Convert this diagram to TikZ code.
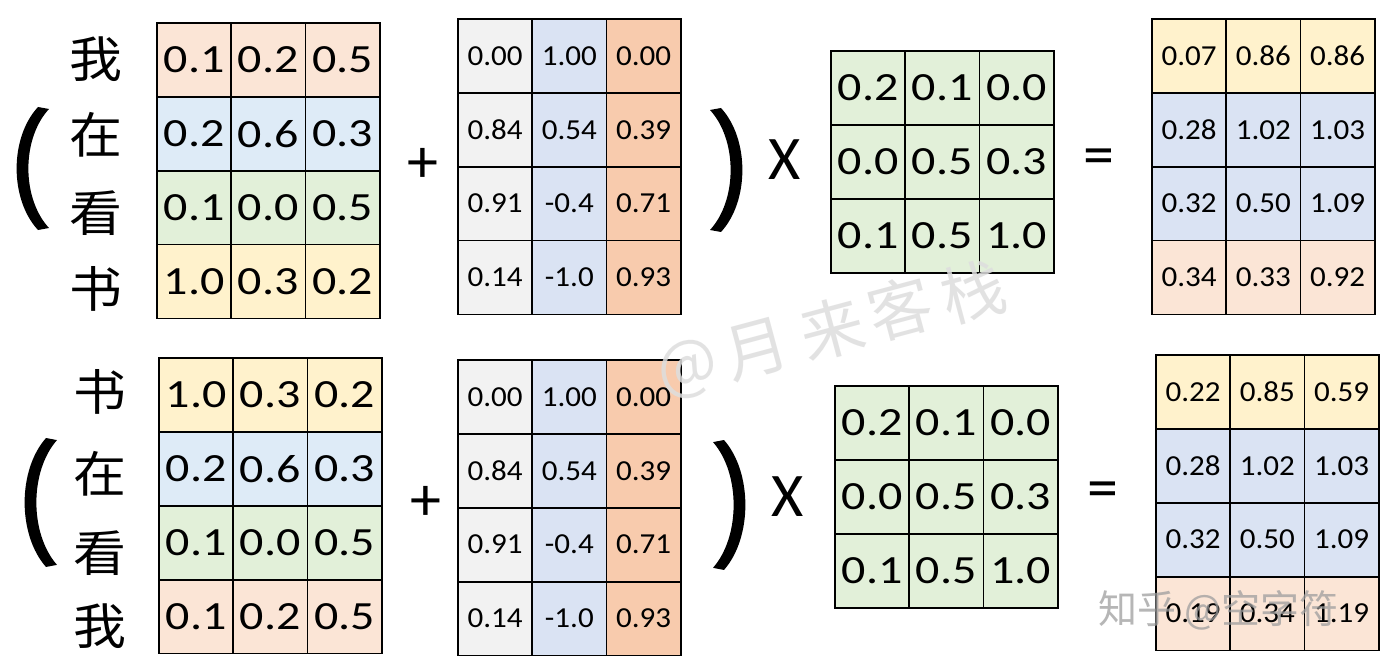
\documentclass[tikz,border=0pt]{standalone}
\usepackage{fontspec}
\setmainfont{Carlito}
\newfontfamily\widefont[FakeStretch=1.2]{Carlito}
\newfontfamily\smallfont[FakeStretch=1.07]{Carlito}
\newfontfamily\cjk{Noto Sans CJK SC}
\newfontfamily\cjkwide[FakeStretch=1.08]{Noto Sans CJK SC}
\usetikzlibrary{matrix}
\definecolor{cOr}{HTML}{FBE5D6}
\definecolor{cBl}{HTML}{DEEBF7}
\definecolor{cGr}{HTML}{E2F0D9}
\definecolor{cYe}{HTML}{FFF2CC}
\definecolor{cGy}{HTML}{F2F2F2}
\definecolor{cLa}{HTML}{DAE3F3}
\definecolor{cSa}{HTML}{F8CBAD}
\tikzset{
  cell/.style={draw=black, line width=1.8pt, minimum width=74.3pt, minimum height=73.9pt,
    inner sep=0pt, outer sep=0pt, anchor=center},
  grid/.style={matrix of nodes, inner sep=0pt, outer sep=0pt, column sep=-1.8pt, row sep=-1.8pt,
    anchor=north west},
  bignum/.style={font=\widefont\fontsize{40}{48}\selectfont},
  smallnum/.style={font=\smallfont\fontsize{29}{35}\selectfont},
  word/.style={font=\cjkwide\fontsize{49}{60}\selectfont, inner sep=0pt},
  opsym/.style={font=\fontsize{62}{70}\selectfont, inner sep=0pt},
  wmark/.style={font=\cjk\fontsize{64}{66}\selectfont, text=black!13, opacity=0.85, inner sep=0pt, rotate=15},
  zhmark/.style={font=\cjk\fontsize{39}{40}\selectfont, text=black!38, opacity=0.75, inner sep=0pt},
  lparen/.pic={
    \fill[black] (21,0) .. controls (-7.5,31) and (-7.5,93) .. (21,124)
      -- (32,122) .. controls (4.5,92) and (4.5,32) .. (32,2) -- cycle;
  },
}
\begin{document}
\begin{tikzpicture}[x=1pt,y=-1pt]
\useasboundingbox[fill=white] (0,0) rectangle (1394,668);

% ---------- top equation ----------
\pic at (17,107) [yscale=0.992] {lparen};
\node[word] (w1) at (96,59) {我};
\node[word] (w2) at (96,135) {在};
\node[word] (w3) at (96,213) {看};
\node[word] (w4) at (96,289) {书};

\matrix (A) [grid, nodes={cell,bignum},
  row 1/.style={nodes={fill=cOr}}, row 2/.style={nodes={fill=cBl}},
  row 3/.style={nodes={fill=cGr}}, row 4/.style={nodes={fill=cYe}}] at (156,22) {
  0.1 & 0.2 & 0.5 \\
  0.2 & 0.6 & 0.3 \\
  0.1 & 0.0 & 0.5 \\
  1.0 & 0.3 & 0.2 \\
};

\node[opsym] (plus1) at (423,165) {+};

\matrix (P) [grid, nodes={cell,smallnum},
  column 1/.style={nodes={fill=cGy}}, column 2/.style={nodes={fill=cLa}},
  column 3/.style={nodes={fill=cSa}}] at (457,18) {
  0.00 & 1.00 & 0.00 \\
  0.84 & 0.54 & 0.39 \\
  0.91 & -0.4 & 0.71 \\
  0.14 & -1.0 & 0.93 \\
};

\pic at (742,108) [xscale=-1] {lparen};
\node[opsym] (times1) at (785,160) {X};

\matrix (W) [grid, nodes={cell,bignum,fill=cGr}] at (830,50) {
  0.2 & 0.1 & 0.0 \\
  0.0 & 0.5 & 0.3 \\
  0.1 & 0.5 & 1.0 \\
};

\node[opsym] (eq1) at (1099,162) {=};

\matrix (R) [grid, nodes={cell,smallnum},
  row 1/.style={nodes={fill=cYe}}, row 2/.style={nodes={fill=cLa}},
  row 3/.style={nodes={fill=cLa}}, row 4/.style={nodes={fill=cOr}}] at (1151,18) {
  0.07 & 0.86 & 0.86 \\
  0.28 & 1.02 & 1.03 \\
  0.32 & 0.50 & 1.09 \\
  0.34 & 0.33 & 0.92 \\
};

% ---------- bottom equation ----------
\pic at (25,438) [yscale=1.04] {lparen};
\node[word] (v1) at (100,392) {书};
\node[word] (v2) at (100,474) {在};
\node[word] (v3) at (100,553) {看};
\node[word] (v4) at (100,626) {我};

\matrix (B) [grid, nodes={cell,bignum},
  row 1/.style={nodes={fill=cYe}}, row 2/.style={nodes={fill=cBl}},
  row 3/.style={nodes={fill=cGr}}, row 4/.style={nodes={fill=cOr}}] at (158,357) {
  1.0 & 0.3 & 0.2 \\
  0.2 & 0.6 & 0.3 \\
  0.1 & 0.0 & 0.5 \\
  0.1 & 0.2 & 0.5 \\
};

\node[opsym] (plus2) at (426,503) {+};

\matrix (Q) [grid, nodes={cell,smallnum},
  column 1/.style={nodes={fill=cGy}}, column 2/.style={nodes={fill=cLa}},
  column 3/.style={nodes={fill=cSa}}] at (457,359) {
  0.00 & 1.00 & 0.00 \\
  0.84 & 0.54 & 0.39 \\
  0.91 & -0.4 & 0.71 \\
  0.14 & -1.0 & 0.93 \\
};

\pic at (745,440) [xscale=-1, yscale=1.048] {lparen};
\node[opsym] (times2) at (788,497) {X};

\matrix (V) [grid, nodes={cell,bignum,fill=cGr}] at (834,385) {
  0.2 & 0.1 & 0.0 \\
  0.0 & 0.5 & 0.3 \\
  0.1 & 0.5 & 1.0 \\
};

\node[opsym] (eq2) at (1103,495) {=};

\matrix (S) [grid, nodes={cell,smallnum},
  row 1/.style={nodes={fill=cYe}}, row 2/.style={nodes={fill=cLa}},
  row 3/.style={nodes={fill=cLa}}, row 4/.style={nodes={fill=cOr}}] at (1155,354) {
  0.22 & 0.85 & 0.59 \\
  0.28 & 1.02 & 1.03 \\
  0.32 & 0.50 & 1.09 \\
  0.19 & 0.34 & 1.19 \\
};

% ---------- watermarks ----------
\node[wmark] (m1) at (688,370) {@};
\node[wmark] (m2) at (757,349) {月};
\node[wmark] (m3) at (832,329) {来};
\node[wmark] (m4) at (900,308) {客};
\node[wmark] (m5) at (973,292) {栈};
\node[zhmark, anchor=west] (zh) at (1098,610) {知乎 @空字符};
\end{tikzpicture}
\end{document}
